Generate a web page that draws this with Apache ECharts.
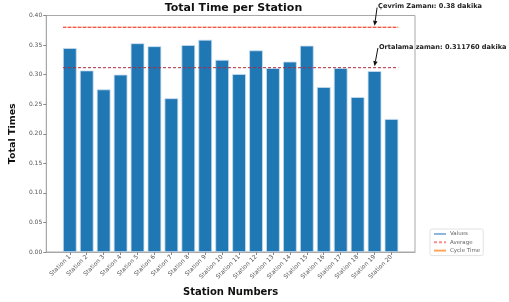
<!DOCTYPE html>
<html>
<head>
<meta charset="utf-8">
<script src="https://cdn.jsdelivr.net/npm/echarts@6/dist/echarts.min.js"></script>
<style>
  html, body { margin: 0; padding: 0; background: #fff; }
  #main { width: 509px; height: 302px; }
</style>
</head>
<body>
<div id="main"></div>
<script>
// istasyon verileri
const stations = ["Station 1", "Station 2", "Station 3", "Station 4", "Station 5",
  "Station 6", "Station 7", "Station 8", "Station 9", "Station 10",
  "Station 11", "Station 12", "Station 13", "Station 14", "Station 15",
  "Station 16", "Station 17", "Station 18", "Station 19", "Station 20"];
const totalTimes = [0.345, 0.307, 0.275, 0.300, 0.353, 0.348, 0.260, 0.350, 0.359, 0.325,
  0.301, 0.341, 0.311, 0.322, 0.349, 0.279, 0.311, 0.262, 0.306, 0.225];
const cycleTime = 0.38;
const averageTime = 0.31176;
const yTicks = [0, 0.05, 0.10, 0.15, 0.20, 0.25, 0.30, 0.35, 0.40];
const cycleLabel = "Çevrim Zamanı: 0.38 dakika";
const averageLabel = "Ortalama zaman: 0.311760 dakika";

const font = "DejaVu Sans";
const idx = stations.map((s, i) => i);
// yatay çizgiler ilk barın solundan son barın sağına kadar
const xStart = -0.4, xEnd = stations.length - 1 + 0.4;
const annotX = stations.length - 2; // Station 19

const chart = echarts.init(document.getElementById("main"));

// ok + yazı (annotate benzeri)
function renderAnnot(params, api) {
  const tip = api.coord([api.value(0), api.value(1)]);
  const txt = api.coord([api.value(2), api.value(3)]);
  const tail = [txt[0], txt[1] - 2];
  const tipP = [tip[0], tip[1] - 1.5];
  const ang = Math.atan2(tipP[1] - tail[1], tipP[0] - tail[0]);
  const L = 5, W = 2.2;
  const bx = tipP[0] - L * Math.cos(ang), by = tipP[1] - L * Math.sin(ang);
  const nx = -Math.sin(ang) * W, ny = Math.cos(ang) * W;
  return {
    type: "group",
    children: [
      { type: "line", shape: { x1: tail[0], y1: tail[1], x2: bx, y2: by },
        style: { stroke: "#111", lineWidth: 1 } },
      { type: "polygon", shape: { points: [tipP, [bx + nx, by + ny], [bx - nx, by - ny]] },
        style: { fill: "#111" } },
      { type: "text", x: txt[0] + 1, y: txt[1] + 0.5,
        style: { text: api.value(4), fontFamily: font, fontSize: 6.6, fontWeight: "bold",
          fill: "#222", align: "left", verticalAlign: "bottom" } }
    ]
  };
}

const option = {
  animation: false,
  backgroundColor: "#fff",
  title: {
    text: "Total Time per Station",
    left: 228.5,
    top: -2,
    textAlign: "center",
    textStyle: { fontFamily: font, fontSize: 11, fontWeight: "bold", color: "#111" }
  },
  grid: {
    left: 42, top: 15.5, right: 94, bottom: 45.3,
    show: true, borderColor: "#a8a8a8", borderWidth: 1
  },
  legend: {
    orient: "vertical",
    left: 430, top: 229,
    itemWidth: 12, itemHeight: 6, itemGap: 2.3,
    padding: [2, 3, 2, 3],
    borderColor: "#e2e2e2", borderWidth: 1, borderRadius: 2,
    backgroundColor: "#fff",
    itemStyle: { opacity: 0 },
    textStyle: { fontFamily: font, fontSize: 5.5, color: "#666", padding: [0, 0, 0, -1] },
    data: ["Values", "Average", "Cycle Time"]
  },
  xAxis: {
    type: "value",
    min: -1.39, max: stations.length - 1 + 1.39,
    name: "Station Numbers",
    nameLocation: "middle",
    nameGap: 34,
    nameTextStyle: { fontFamily: font, fontSize: 10, fontWeight: "bold", color: "#111" },
    axisLine: { show: true, onZero: false, lineStyle: { color: "#a8a8a8" } },
    axisTick: { show: true, customValues: idx, length: 3, lineStyle: { color: "#888" } },
    axisLabel: {
      customValues: idx,
      rotate: 45,
      fontFamily: font, fontSize: 6, color: "#555", margin: 4,
      formatter: v => stations[Math.round(v)]
    },
    splitLine: { show: false }
  },
  yAxis: {
    type: "value",
    min: 0, max: 0.4, interval: 0.05,
    name: "Total Times",
    nameLocation: "middle",
    nameGap: 22,
    nameTextStyle: { fontFamily: font, fontSize: 9.5, fontWeight: "bold", color: "#111" },
    axisLine: { show: true, onZero: false, lineStyle: { color: "#a8a8a8" } },
    axisTick: { show: true, length: 3, lineStyle: { color: "#888" } },
    axisLabel: {
      customValues: yTicks,
      fontFamily: font, fontSize: 6, color: "#555", margin: 4,
      formatter: v => v.toFixed(2)
    },
    splitLine: { show: false }
  },
  series: [
    {
      name: "bars",
      type: "bar",
      barWidth: 13.7,
      itemStyle: { color: "#1f77b4", borderColor: "#c9ddef", borderWidth: 0.8 },
      data: totalTimes.map((v, i) => [i, v]),
      z: 2
    },
    {
      // çevrim zamanı çizgisi
      name: "cycleLine",
      type: "line",
      symbol: "none",
      lineStyle: { color: "#ffc0a8", width: 1.5 },
      data: [[xStart, cycleTime], [xEnd, cycleTime]],
      z: 3
    },
    {
      name: "cycleDash",
      type: "line",
      symbol: "none",
      lineStyle: { color: "#f03c3c", width: 1, type: [3, 2] },
      data: [[xStart, cycleTime], [xEnd, cycleTime]],
      z: 4
    },
    {
      // ortalama çizgisi
      name: "avgLine",
      type: "line",
      symbol: "none",
      lineStyle: { color: "#b02a3e", width: 1, type: [3, 2] },
      data: [[xStart, averageTime], [xEnd, averageTime]],
      z: 4
    },
    {
      name: "annotations",
      type: "custom",
      clip: false,
      silent: true,
      renderItem: renderAnnot,
      data: [
        [annotX, cycleTime, annotX + 0.15, cycleTime + 0.03, cycleLabel],
        [annotX, averageTime, annotX + 0.2, averageTime + 0.03, averageLabel]
      ],
      z: 5
    },
    // lejant için boş seriler
    { name: "Values", type: "line", symbol: "none", data: [], lineStyle: { color: "#8cb6dc", width: 1.5 } },
    { name: "Average", type: "line", symbol: "none", data: [], lineStyle: { color: "#ff8a8a", width: 1.5, type: [3, 2] } },
    { name: "Cycle Time", type: "line", symbol: "none", data: [], lineStyle: { color: "#ffa65c", width: 1.5 } }
  ]
};

chart.setOption(option);
</script>
</body>
</html>
